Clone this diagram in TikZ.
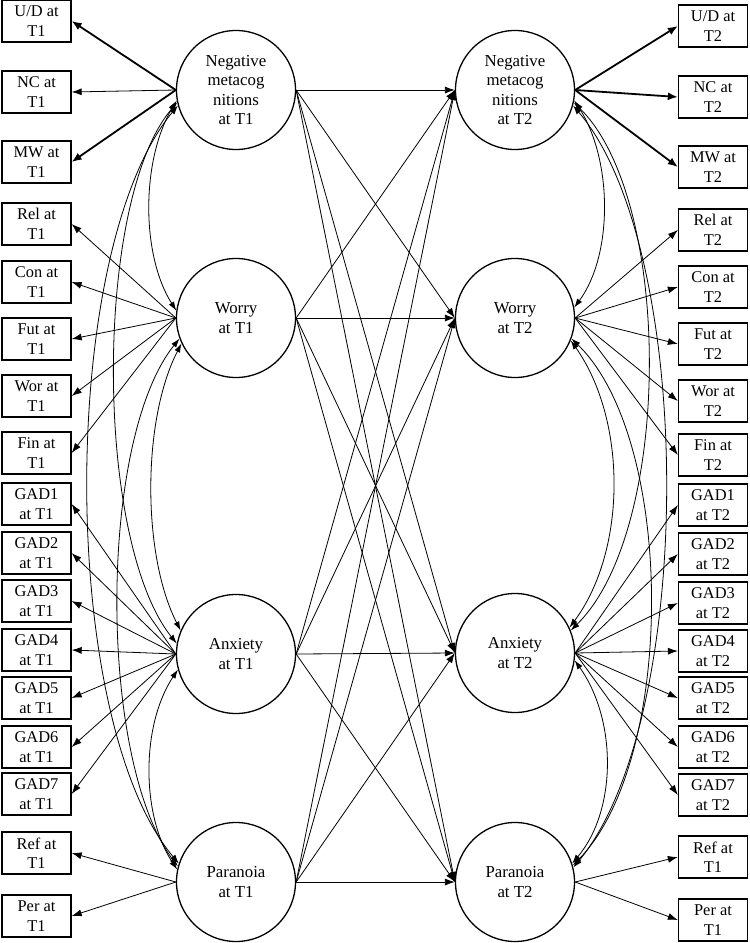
\documentclass[tikz,border=0pt]{standalone}
\usepackage{fontspec}
\setmainfont{Liberation Serif}
\usetikzlibrary{arrows.meta}
\begin{document}
\begin{tikzpicture}[x=1pt,y=-1pt,
  lat/.style={circle,draw,line width=1.3pt,minimum size=119pt,inner sep=0pt,align=center,font=\fontsize{16.8}{19.5}\selectfont},
  obs/.style={rectangle,draw,line width=1.3pt,minimum width=69pt,minimum height=42pt,inner sep=0pt,align=center,font=\fontsize{16.4}{19.5}\selectfont},
  load/.style={line width=0.8pt,-{Latex[length=10pt,width=7pt]}},
  loadb/.style={line width=1.8pt,-{Latex[length=10pt,width=8pt]}},
  reg/.style={line width=0.8pt,-{Latex[length=10pt,width=7pt]}},
  cov/.style={line width=0.8pt,{Latex[length=9pt,width=6pt]}-{Latex[length=9pt,width=6pt]}}
]
\useasboundingbox (0,0) rectangle (750,943);
% latent factors
\node[lat] (n1) at (236,90) {Negative\\metacog\\nitions\\at T1};
\node[lat] (w1) at (236,318) {Worry\\at T1};
\node[lat] (a1) at (236,654) {Anxiety\\at T1};
\node[lat] (p1) at (236,882) {Paranoia\\at T1};
\node[lat] (n2) at (515,90) {Negative\\metacog\\nitions\\at T2};
\node[lat] (w2) at (515,318) {Worry\\at T2};
\node[lat] (a2) at (515,653) {Anxiety\\at T2};
\node[lat] (p2) at (515,882) {Paranoia\\at T2};
% left indicators
\node[obs] (l1) at (36.5,21) {U/D at\\T1};
\node[obs] (l2) at (36.5,92) {NC at\\T1};
\node[obs] (l3) at (36.5,162) {MW at\\T1};
\node[obs] (l4) at (36.5,224) {Rel at\\T1};
\node[obs] (l5) at (36.5,282) {Con at\\T1};
\node[obs] (l6) at (36.5,339) {Fut at\\T1};
\node[obs] (l7) at (36.5,396) {Wor at\\T1};
\node[obs] (l8) at (36.5,453) {Fin at\\T1};
\node[obs] (l9) at (36.5,504) {GAD1\\at T1};
\node[obs] (l10) at (36.5,553) {GAD2\\at T1};
\node[obs] (l11) at (36.5,601) {GAD3\\at T1};
\node[obs] (l12) at (36.5,650) {GAD4\\at T1};
\node[obs] (l13) at (36.5,698) {GAD5\\at T1};
\node[obs] (l14) at (36.5,747) {GAD6\\at T1};
\node[obs] (l15) at (36.5,794) {GAD7\\at T1};
\node[obs] (l16) at (36.5,853) {Ref at\\T1};
\node[obs] (l17) at (36.5,916) {Per at\\T1};
% right indicators
\node[obs] (r1) at (713,26) {U/D at\\T2};
\node[obs] (r2) at (713,97) {NC at\\T2};
\node[obs] (r3) at (713,167) {MW at\\T2};
\node[obs] (r4) at (713,230) {Rel at\\T2};
\node[obs] (r5) at (713,287) {Con at\\T2};
\node[obs] (r6) at (713,344) {Fut at\\T2};
\node[obs] (r7) at (713,401) {Wor at\\T2};
\node[obs] (r8) at (713,455) {Fin at\\T2};
\node[obs] (r9) at (713,505) {GAD1\\at T2};
\node[obs] (r10) at (713,554) {GAD2\\at T2};
\node[obs] (r11) at (713,603) {GAD3\\at T2};
\node[obs] (r12) at (713,651) {GAD4\\at T2};
\node[obs] (r13) at (713,698) {GAD5\\at T2};
\node[obs] (r14) at (713,747) {GAD6\\at T2};
\node[obs] (r15) at (713,795) {GAD7\\at T2};
\node[obs] (r16) at (713,857) {Ref at\\T1};
\node[obs] (r17) at (713,920) {Per at\\T1};
% loadings left
\draw[loadb] (n1.west) -- (l1.east);
\draw[load] (n1.west) -- (l2.east);
\draw[loadb] (n1.west) -- (l3.east);
\foreach \b in {l4,l5,l6,l7,l8} \draw[load] (w1.west) -- (\b.east);
\foreach \b in {l9,l10,l11,l12,l13,l14,l15} \draw[load] (a1.west) -- (\b.east);
\foreach \b in {l16,l17} \draw[load] (p1.west) -- (\b.east);
% loadings right
\foreach \b in {r1,r2,r3} \draw[loadb] (n2.east) -- (\b.west);
\foreach \b in {r4,r5,r6,r7,r8} \draw[load] (w2.east) -- (\b.west);
\foreach \b in {r9,r10,r11,r12,r13,r14,r15} \draw[load] (a2.east) -- (\b.west);
\foreach \b in {r16,r17} \draw[load] (p2.east) -- (\b.west);
% cross-lagged paths
\foreach \a in {n1,w1,a1,p1}
  \foreach \b in {n2,w2,a2,p2}
    \draw[reg] (\a.east) -- (\b.west);
% covariances T1
\draw[cov] (n1.190) .. controls (141,160) and (141,255) .. (w1.173);
\draw[cov] (w1.205) .. controls (142,420) and (142,555) .. (a1.157);
\draw[cov] (a1.195) .. controls (141,725) and (141,815) .. (p1.168);
\draw[cov] (n1.192) .. controls (94,200) and (94,540) .. (a1.170);
\draw[cov] (w1.200) .. controls (98,440) and (98,760) .. (p1.165);
\draw[cov] (n1.195) .. controls (58,250) and (58,720) .. (p1.162);
% covariances T2
\draw[cov] (n2.350) .. controls (613,160) and (613,255) .. (w2.10);
\draw[cov] (w2.338) .. controls (627,420) and (627,550) .. (a2.25);
\draw[cov] (a2.353) .. controls (617,720) and (617,810) .. (p2.18);
\draw[cov] (n2.348) .. controls (673,200) and (673,530) .. (a2.22);
\draw[cov] (w2.340) .. controls (676,440) and (676,760) .. (p2.16);
\draw[cov] (n2.345) .. controls (696,250) and (696,720) .. (p2.14);
\end{tikzpicture}
\end{document}
